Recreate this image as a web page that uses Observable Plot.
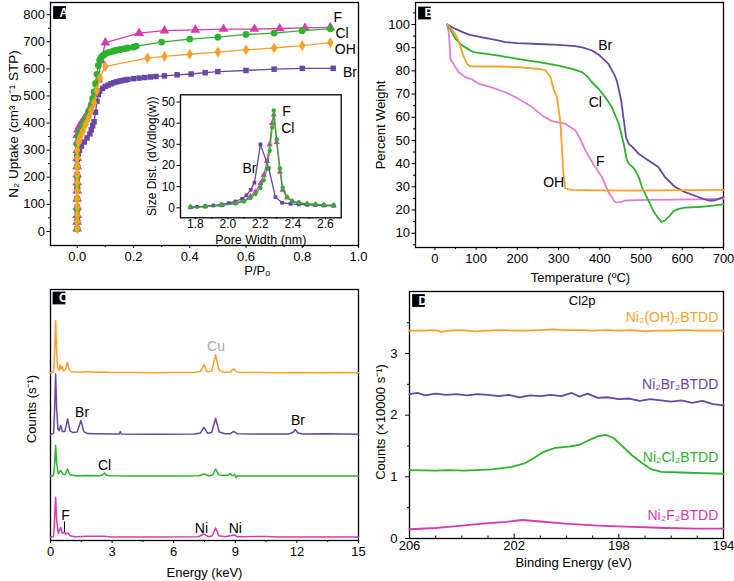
<!DOCTYPE html>
<html>
<head>
<meta charset="utf-8">
<script src="https://cdn.jsdelivr.net/npm/d3@7"></script>
<script src="https://cdn.jsdelivr.net/npm/@observablehq/plot@0.6"></script>
<style>
  html, body { margin: 0; padding: 0; background: #fff; }
  #fig { position: relative; width: 734px; height: 581px; overflow: hidden; background: #fff; }
  #fig > svg { position: absolute; }
</style>
</head>
<body>
<div id="fig"></div>
<script>
// ================= DATA =================
// Panel A: N2 isotherms (P/Po, uptake cm3/g STP)
const isoNames = ["F", "Cl", "OH", "Br"];
const isoF_p = [0,0,0,0,0,0,0,0,0,0,0,0,0,0.003,0.008,0.015,0.025,0.035,0.045,0.055,0.065,0.075,0.085,0.1,0.22,0.31,0.42,0.52,0.63,0.72,0.81,0.9];
const isoF_q = [10,35,60,90,120,150,180,210,240,270,300,330,355,375,388,400,415,432,455,480,510,560,630,697,732,741,744,747,747,749,751,753];
const isoCl_p = [0,0,0,0,0,0,0,0,0,0.003,0.01,0.02,0.03,0.04,0.05,0.055,0.06,0.065,0.07,0.075,0.08,0.085,0.09,0.095,0.1,0.11,0.12,0.13,0.14,0.15,0.16,0.17,0.18,0.2,0.21,0.3,0.4,0.5,0.6,0.7,0.8,0.9];
const isoCl_q = [10,40,80,120,160,200,240,280,320,350,372,395,418,442,466,490,515,545,580,612,632,642,648,652,656,660,663,666,669,671,673,675,677,680,684,699,710,717,727,732,741,748];
const isoOH_p = [0,0,0,0,0,0,0,0,0,0,0,0.005,0.01,0.02,0.03,0.04,0.05,0.06,0.07,0.08,0.1,0.25,0.31,0.4,0.5,0.6,0.7,0.8,0.9];
const isoOH_q = [10,35,60,90,120,150,180,210,240,270,300,330,348,370,395,420,447,475,520,565,609,640,646,654,662,670,677,686,697];
const isoBr_p = [0,0,0,0,0,0,0,0,0,0,0.003,0.008,0.015,0.025,0.035,0.045,0.05,0.055,0.06,0.065,0.07,0.075,0.08,0.09,0.1,0.11,0.12,0.13,0.14,0.15,0.16,0.17,0.18,0.2,0.22,0.24,0.26,0.28,0.31,0.355,0.405,0.455,0.5,0.6,0.7,0.8,0.91];
const isoBr_q = [10,35,60,90,120,150,180,210,240,265,285,300,315,330,345,360,375,390,405,440,480,505,518,528,535,540,545,549,552,555,557,559,561,564,566,568,570,572,574,578,581,586,590,594,599,602,602];
const aXTicks = [0, 0.2, 0.4, 0.6, 0.8, 1.0];
const aXMinor = [0.1, 0.3, 0.5, 0.7, 0.9];
const aYTicks = [0, 100, 200, 300, 400, 500, 600, 700, 800];
const aYMinor = [50, 150, 250, 350, 450, 550, 650, 750];

// Panel A inset: pore size distribution
const psdNames = ["F", "Cl", "Br"];
const psdBr_w = [1.77,1.81,1.86,1.91,1.96,2.005,2.046,2.087,2.114,2.14,2.163,2.2,2.251,2.292,2.333,2.385,2.436,2.487,2.538,2.59,2.65];
const psdBr_v = [0.3,0.5,0.8,1.1,1.6,2.2,3.0,4.3,5.9,8.5,11.9,30,18.7,5.1,2.4,1.9,1.6,1.4,1.3,1.1,1.0];
const psdF_w = [1.77,1.86,1.96,2.046,2.097,2.138,2.169,2.2,2.22,2.241,2.257,2.272,2.282,2.3,2.32,2.337,2.364,2.395,2.436,2.487,2.538,2.59,2.65];
const psdF_v = [0.3,0.6,1.3,2.2,3.4,5.4,7.6,11.5,15.5,22,30,40,44,31,17,8.5,4.8,3.1,2.3,1.8,1.5,1.3,1.1];
const psdCl_w = [1.77,1.86,1.96,2.046,2.097,2.138,2.169,2.2,2.22,2.241,2.257,2.272,2.282,2.3,2.32,2.337,2.364,2.395,2.436,2.487,2.538,2.59,2.65];
const psdCl_v = [0.3,0.6,1.2,2.0,3.0,4.6,6.5,9.5,13,18.5,27,38,46,32.4,18.7,9.5,5.2,3.3,2.5,2.0,1.7,1.4,1.2];
const inXTicks = [1.8, 2.0, 2.2, 2.4, 2.6];
const inXMinor = [1.9, 2.1, 2.3, 2.5];
const inYTicks = [0, 10, 20, 30, 40, 50];

// Panel B: TGA (temperature C, percent weight)
const tgaNames = ["Br", "Cl", "F", "OH"];
const tgaBr_T = [30,40,50,70,85,115,150,171,200,250,300,340,360,381,400,421,435,441,446,452,458,464,470,480,494,518,542,558,583,607,639,664,680,690,700];
const tgaBr_W = [100,99,98.1,96.5,95.5,94.5,93.3,92.4,92,91.6,91.2,90.7,90,88.8,86.6,83,78.5,75.9,72,67,59,51,48.6,47,44.3,41.4,38.5,34.2,29.9,27.7,25.6,24.1,24.2,24.9,25.6];
const tgaCl_T = [30,40,50,66,80,90,98,125,155,200,252,300,333,357,370,381,397,413,429,446,458,465,470,480,486,495,502,510,518,526,534,542,550,558,567,579,591,607,639,670,700];
const tgaCl_W = [100,97,93.8,91,89.5,88.4,88,87.3,86.6,85.2,83.8,82.3,80.9,79.5,77.5,75.1,72.3,68.7,64.4,57.2,48.6,42,40,38.5,37.1,34,29.9,27,24.1,21,18.4,16.5,14.8,15.5,17,19.5,20.5,21,21.3,21.8,22.4];
const tgaOH_T = [30,45,55,62,70,78,85,100,155,200,252,268,280,288,296,304,308,312,316,325,333,400,478,550,620,700];
const tgaOH_W = [100,97,94,90.5,86,83,82,81.9,81.9,81.6,80.9,80.2,77.5,72,68.7,58.6,47.1,35.6,29.5,28.9,28.7,28.5,28.4,28.5,28.6,28.7];
const tgaF_T = [30,34,38,45,58,74,90,107,130,171,195,236,260,284,316,341,353,365,377,389,405,421,437,450,462,518,639,700];
const tgaF_W = [100,96,85,83,79.4,77.3,76.3,74.4,73.3,70.8,68.7,64.4,60.8,58.3,57.2,54.3,50.5,45.7,42,38.5,34.2,27.7,23.4,23.3,24.1,24.4,24.6,24.9];
const bXTicks = [0, 100, 200, 300, 400, 500, 600, 700];
const bXMinor = [50, 150, 250, 350, 450, 550, 650];
const bYTicks = [10, 20, 30, 40, 50, 60, 70, 80, 90, 100];
const bYMinor = [5, 15, 25, 35, 45, 55, 65, 75, 85, 95, 105];

// Panel C: EDS spectra (energy keV, counts, stacked with offsets)
const edsOffsets = [66.8, 42.2, 25.6, 1.3]; // OH, Br, Cl, F
const edsOH_E = [0,0.15,0.2,0.25,0.3,0.35,0.42,0.47,0.52,0.58,0.63,0.72,0.82,0.9,1.0,1.2,1.5,1.75,2.0,2.6,3.0,4.0,5.0,6.0,7.0,7.3,7.47,7.62,7.85,8.04,8.2,8.4,8.75,8.92,9.1,10,11,12,13,14,15];
const edsOH_C = [0,0.3,8,20.8,8,2,1,3.2,1.5,2.5,0.8,1,4.2,1.5,0.4,0.3,0.2,0.5,0.2,0.3,0.1,0.1,0,0.1,0.1,0.5,3.3,0.5,0.6,7.2,1.2,0.2,0.3,1.6,0.2,0.1,0,0.1,0,0.1,0];
const edsBr_E = [0,0.15,0.2,0.25,0.3,0.36,0.42,0.5,0.58,0.7,0.83,0.95,1.1,1.3,1.48,1.62,1.8,2.2,3.0,3.35,3.4,3.45,5.0,7.0,7.3,7.47,7.65,7.85,8.04,8.22,8.5,8.75,8.92,9.1,10,11.6,11.8,11.92,12.05,12.3,13.5,15];
const edsBr_C = [0,0.5,10,24.2,10,2.5,1.5,3.6,1.2,1.2,6.2,1.5,0.8,1,5.6,1.2,0.4,0.3,0.2,0.2,1.2,0.2,0.1,0.2,0.6,2.9,0.5,0.8,6.5,1,0.3,0.3,1.3,0.3,0.2,0.2,0.8,2.0,0.6,0.2,0.3,0.1];
const edsCl_E = [0,0.15,0.2,0.25,0.3,0.38,0.5,0.6,0.72,0.83,0.95,1.2,1.8,2.4,2.55,2.63,2.72,2.9,4.0,6.0,7.2,7.47,7.7,7.9,8.04,8.2,8.6,8.78,8.83,8.9,8.97,9.03,9.1,10,15];
const edsCl_C = [0,0.3,5,12.2,5,1,2.3,0.8,0.7,2.9,0.6,0.2,0.3,0.2,0.6,1.3,0.5,0.2,0.1,0.1,0.2,0.9,0.2,0.5,2.9,0.5,0.3,1.0,0.2,0.3,0.8,-0.6,0.1,0.1,0.1];
const edsF_E = [0,0.15,0.2,0.25,0.3,0.38,0.5,0.58,0.68,0.75,0.85,0.95,1.2,1.75,2.6,3.0,5.0,7.2,7.47,7.7,7.88,8.04,8.2,8.5,8.95,9.1,10.6,11,15];
const edsF_C = [0,0.3,7,15.9,7,1.5,4,1.5,2,1.2,1.7,0.6,0.2,0.4,0.4,0.1,0.1,0.2,1.3,0.2,0.6,3.7,0.6,0.2,0.9,0.2,0.3,0.1,0.1];
const edsLabels = ["Cu", "Br", "Br", "Cl", "F", "Ni", "Ni"];
const cXTicks = [0, 3, 6, 9, 12, 15];
const cXMinor = [1.5, 4.5, 7.5, 10.5, 13.5];

// Panel D: XPS Cl2p (binding energy eV, counts x10000/s)
const xpsNames = ["Ni\u2082(OH)\u2082BTDD", "Ni\u2082Br\u2082BTDD", "Ni\u2082Cl\u2082BTDD", "Ni\u2082F\u2082BTDD"];
const xpsOH_E = [206,205.5,205,204.8,204.5,204,203.5,203,202.5,202,201.5,201,200.5,200,199.5,199,198.5,198,197.5,197,196.5,196,195.5,195,194.5,194];
const xpsOH_C = [3.37,3.37,3.38,3.35,3.37,3.38,3.36,3.37,3.38,3.37,3.37,3.38,3.39,3.38,3.38,3.37,3.38,3.37,3.38,3.36,3.37,3.37,3.38,3.37,3.37,3.37];
const xpsBr_E = [206,205.7,205.4,205,204.6,204.2,203.8,203.4,203,202.6,202.2,201.8,201.4,201,200.6,200.2,199.8,199.5,199.2,198.8,198.4,198,197.6,197.2,196.8,196.4,196,195.6,195.2,194.8,194.4,194];
const xpsBr_C = [2.34,2.36,2.32,2.35,2.33,2.34,2.32,2.34,2.33,2.31,2.33,2.29,2.32,2.31,2.33,2.31,2.36,2.30,2.35,2.28,2.29,2.26,2.27,2.23,2.26,2.24,2.22,2.24,2.20,2.23,2.18,2.16];
const xpsCl_E = [206,205,204.5,203.9,202.85,202.1,201.6,201.26,200.9,200.43,199.9,199.5,199.16,198.78,198.5,198.2,197.9,197.5,197.1,196.74,196.36,195.6,194.8,194];
const xpsCl_C = [1.11,1.10,1.11,1.10,1.12,1.16,1.22,1.30,1.40,1.47,1.49,1.52,1.59,1.66,1.68,1.63,1.51,1.35,1.22,1.12,1.08,1.07,1.06,1.05];
const xpsF_E = [206,205,204.5,203.2,202.3,201.7,201.1,200.05,198.8,197.5,196.2,195,194];
const xpsF_C = [0.15,0.17,0.19,0.24,0.27,0.30,0.28,0.24,0.21,0.19,0.17,0.16,0.16];
const dXTicks = [206, 202, 198, 194];
const dXMinor = [205, 204, 203, 201, 200, 199, 197, 196, 195];
const dYTicks = [0, 1, 2, 3];
const dYMinor = [0.5, 1.5, 2.5, 3.5];

// ================= HELPERS =================
const FONT = '"Liberation Sans", Arial, Helvetica, sans-serif';
const C_OR = "#F7A128", C_PU = "#6A46A5", C_GR = "#2DB22D", C_MG = "#D63AAF", C_PK = "#E57DD0", C_GY = "#A9A9A9";
const fig = document.getElementById("fig");
function sty() { return {fontFamily: FONT, fontSize: "13px", background: "transparent", overflow: "visible", color: "black"}; }
function put(svg, left, top) { svg.style.position = "absolute"; svg.style.left = left + "px"; svg.style.top = top + "px"; fig.appendChild(svg); }
function rows(xs, ys, off = 0) { return xs.map((x, i) => ({x, y: ys[i] + off})); }
function badge(L, dx, dy) {
  return [
    Plot.dot([L], {x: null, y: null, frameAnchor: "top-left", dx, dy, symbol: "square", r: 7.2, fill: "black", stroke: null}),
    Plot.text([L], {x: null, y: null, text: d => d, frameAnchor: "top-left", dx, dy: dy + 0.5, fill: "white", fontWeight: "bold", fontSize: 12, lineAnchor: "middle"})
  ];
}
function yLabel(t, dx, dy = 0, fs = 13) {
  return Plot.text([t], {x: null, y: null, text: d => d, frameAnchor: "left", rotate: -90, dx, dy, textAnchor: "middle", lineAnchor: "middle", fontSize: fs});
}
function isoMarks(data, color, symbol, r, sw = 1.3) {
  return [
    Plot.line(data, {x: "x", y: "y", stroke: color, strokeWidth: sw}),
    Plot.dot(data, {x: "x", y: "y", fill: color, stroke: null, symbol, r})
  ];
}

// ================= PANEL A =================
const svgA = Plot.plot({
  width: 367, height: 285, marginLeft: 50, marginRight: 9, marginTop: 2, marginBottom: 40,
  style: sty(),
  x: {domain: [-0.095, 1.0], label: null},
  y: {domain: [-52, 845], label: null},
  marks: [
    Plot.axisX({ticks: aXTicks, tickFormat: d3.format(".1f"), tickSize: 3, tickPadding: 3, label: null}),
    Plot.axisX({ticks: aXMinor, tickFormat: () => "", tickSize: 2, label: null}),
    Plot.axisY({ticks: aYTicks, tickSize: 3.5, tickPadding: 2, label: null}),
    Plot.axisY({ticks: aYMinor, tickFormat: () => "", tickSize: 2, label: null}),
    Plot.frame({strokeWidth: 1.3}),
    ...isoMarks(rows(isoF_p, isoF_q), C_MG, "triangle", 3.6),
    ...isoMarks(rows(isoBr_p, isoBr_q), C_PU, "square", 3.1),
    ...isoMarks(rows(isoCl_p, isoCl_q), C_GR, "circle", 3.4),
    ...isoMarks(rows(isoOH_p, isoOH_q), C_OR, "diamond", 3.4),
    Plot.text(isoNames, {x: [0.911, 0.918, 0.916, 0.945], y: [791, 729, 670, 588], text: d => d, textAnchor: "start", fontSize: 14}),
    Plot.text(["P/P\u2092"], {x: [0.64], frameAnchor: "bottom", dy: 25, text: d => d, lineAnchor: "middle", fontSize: 13}),
    yLabel("N\u2082 Uptake (cm\u00B3 g\u207B\u00B9 STP)", -37, 0, 13.5),
    ...badge("A", 9, 10)
  ]
});
put(svgA, 0, 0);

// Inset
const svgIn = Plot.plot({
  width: 205, height: 157, marginLeft: 40, marginRight: 4.3, marginTop: 6.3, marginBottom: 27.7,
  style: Object.assign(sty(), {fontSize: "12px"}),
  x: {domain: [1.708, 2.697], label: null},
  y: {domain: [-4.7, 53.4], label: null},
  marks: [
    Plot.axisX({ticks: inXTicks, tickFormat: d3.format(".1f"), tickSize: 2, tickPadding: 0, label: null}),
    Plot.axisX({ticks: inXMinor, tickFormat: () => "", tickSize: 1.5, label: null}),
    Plot.axisY({ticks: inYTicks, tickSize: 3.5, tickPadding: 2, label: null}),
    Plot.frame({strokeWidth: 1.3}),
    ...isoMarks(rows(psdF_w, psdF_v), C_MG, "triangle", 2.3, 1.2),
    ...isoMarks(rows(psdBr_w, psdBr_v), C_PU, "square", 2.1, 1.3),
    ...isoMarks(rows(psdCl_w, psdCl_v), C_GR, "circle", 2.2, 1.3),
    Plot.text(psdNames, {x: [2.36, 2.368, 2.132], y: [45.4, 37.5, 18.6], text: d => d, fontSize: 14}),
    Plot.text(["Pore Width (nm)"], {x: null, y: null, frameAnchor: "bottom", dy: 22, text: d => d, lineAnchor: "middle", fontSize: 12.5}),
    yLabel("Size Dist. (dV/dlog(w))", -28.3, 0, 12)
  ]
});
put(svgIn, 140, 88);

// ================= PANEL B =================
const svgB = Plot.plot({
  width: 367, height: 285, marginLeft: 48, marginRight: 11, marginTop: 2, marginBottom: 38,
  style: sty(),
  x: {domain: [-47, 700], label: null},
  y: {domain: [3.83, 109.5], label: null},
  marks: [
    Plot.axisX({ticks: bXTicks, tickSize: 3, tickPadding: 3, label: null}),
    Plot.axisX({ticks: bXMinor, tickFormat: () => "", tickSize: 2, label: null}),
    Plot.axisY({ticks: bYTicks, tickSize: 3.5, tickPadding: 2, label: null}),
    Plot.axisY({ticks: bYMinor, tickFormat: () => "", tickSize: 2, label: null}),
    Plot.frame({strokeWidth: 1.3}),
    Plot.line(rows(tgaF_T, tgaF_W), {x: "x", y: "y", stroke: C_PK, strokeWidth: 1.8}),
    Plot.line(rows(tgaCl_T, tgaCl_W), {x: "x", y: "y", stroke: C_GR, strokeWidth: 1.8}),
    Plot.line(rows(tgaBr_T, tgaBr_W), {x: "x", y: "y", stroke: C_PU, strokeWidth: 1.8}),
    Plot.line(rows(tgaOH_T, tgaOH_W), {x: "x", y: "y", stroke: C_OR, strokeWidth: 1.8}),
    Plot.text(tgaNames, {x: [413, 389, 401, 288], y: [90.9, 66.5, 40.7, 32], text: d => d, fontSize: 14}),
    Plot.text(["Temperature (\u00BAC)"], {x: [353], frameAnchor: "bottom", dy: 30, text: d => d, lineAnchor: "middle", fontSize: 13}),
    yLabel("Percent Weight", -35, 0, 13),
    ...badge("B", 9, 10.5)
  ]
});
put(svgB, 367, 0);

// ================= PANEL C =================
const svgC = Plot.plot({
  width: 367, height: 296, marginLeft: 50, marginRight: 9, marginTop: 4, marginBottom: 41,
  style: sty(),
  x: {domain: [0, 15], label: null},
  y: {domain: [0, 100], label: null, axis: null},
  marks: [
    Plot.axisX({ticks: cXTicks, tickSize: 3, tickPadding: 3, label: null}),
    Plot.axisX({ticks: cXMinor, tickFormat: () => "", tickSize: 2, label: null}),
    Plot.frame({strokeWidth: 1.3}),
    Plot.line(rows(edsOH_E, edsOH_C, edsOffsets[0]), {x: "x", y: "y", stroke: C_OR, strokeWidth: 1.5}),
    Plot.line(rows(edsBr_E, edsBr_C, edsOffsets[1]), {x: "x", y: "y", stroke: C_PU, strokeWidth: 1.5}),
    Plot.line(rows(edsCl_E, edsCl_C, edsOffsets[2]), {x: "x", y: "y", stroke: C_GR, strokeWidth: 1.5}),
    Plot.line(rows(edsF_E, edsF_C, edsOffsets[3]), {x: "x", y: "y", stroke: C_MG, strokeWidth: 1.5}),
    Plot.text(edsLabels, {x: [8.06, 1.54, 12.05, 2.63, 0.73, 7.35, 9.0], y: [77.3, 51.1, 47.8, 29.9, 9.9, 4.6, 4.6], text: d => d,
      fill: (d, i) => i === 0 ? C_GY : "black", fontSize: 14}),
    Plot.ruleX([0.68], {y1: 3.2, y2: 7.4, stroke: "black", strokeWidth: 1}),
    Plot.text(["Energy (keV)"], {x: null, y: null, frameAnchor: "bottom", dy: 32, text: d => d, lineAnchor: "middle", fontSize: 13}),
    yLabel("Counts (s\u207B\u00B9)", -19, -6, 13),
    ...badge("C", 8.5, 8.5)
  ]
});
put(svgC, 0, 285);

// ================= PANEL D =================
const svgD = Plot.plot({
  width: 367, height: 296, marginLeft: 42, marginRight: 11, marginTop: 6, marginBottom: 43,
  style: sty(),
  x: {domain: [206, 194], label: null},
  y: {domain: [0, 4.005], label: null},
  marks: [
    Plot.axisX({ticks: dXTicks, tickFormat: d3.format("d"), tickSize: 0, tickPadding: 2, label: null}),
    Plot.ruleX(dXTicks, {y1: 0, y2: 0.07, stroke: "black"}),
    Plot.ruleX(dXMinor, {y1: 0, y2: 0.04, stroke: "black"}),
    Plot.axisY({ticks: dYTicks, tickFormat: d3.format("d"), tickSize: 4, tickPadding: 8, label: null}),
    Plot.axisY({ticks: dYMinor, tickFormat: () => "", tickSize: 2, label: null}),
    Plot.frame({strokeWidth: 1.3}),
    Plot.line(rows(xpsOH_E, xpsOH_C), {x: "x", y: "y", stroke: C_OR, strokeWidth: 1.8}),
    Plot.line(rows(xpsBr_E, xpsBr_C), {x: "x", y: "y", stroke: C_PU, strokeWidth: 1.8}),
    Plot.line(rows(xpsCl_E, xpsCl_C), {x: "x", y: "y", stroke: C_GR, strokeWidth: 1.8}),
    Plot.line(rows(xpsF_E, xpsF_C), {x: "x", y: "y", stroke: C_MG, strokeWidth: 1.8}),
    Plot.text(xpsNames, {x: [194.2, 194.2, 194.2, 194.2], y: [3.58, 2.49, 1.32, 0.38], text: d => d, textAnchor: "end",
      fill: [C_OR, C_PU, C_GR, C_MG], fontSize: 14}),
    Plot.text(["Cl2p"], {x: [199.4], y: [3.86], text: d => d, fontSize: 13}),
    Plot.text(["Binding Energy (eV)"], {x: [199.73], frameAnchor: "bottom", dy: 24.5, text: d => d, lineAnchor: "middle", fontSize: 13}),
    yLabel("Counts (\u00D710000 s\u207B\u00B9)", -29, 7, 13),
    ...badge("D", 9, 9)
  ]
});
put(svgD, 367, 285);
</script>
</body>
</html>
